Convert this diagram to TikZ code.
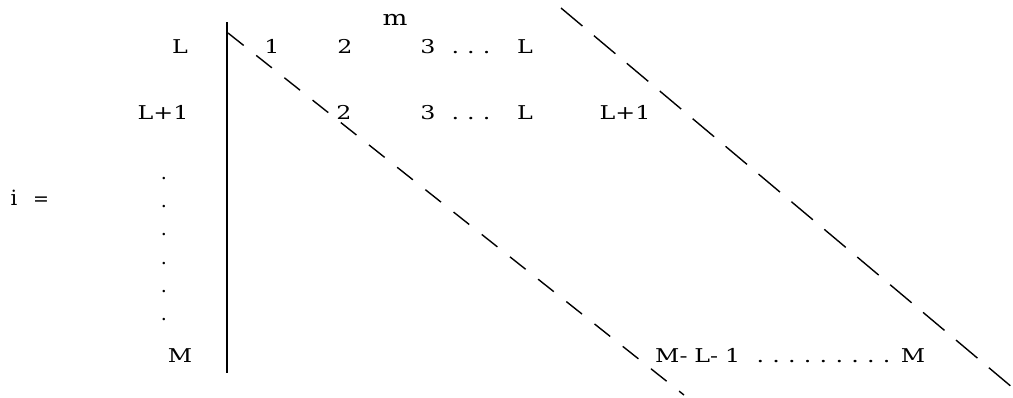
\documentclass[tikz,border=0pt]{standalone}
\usepackage{fontspec}
\setmainfont{DejaVu Serif}
\usepackage{graphicx}
\newcommand{\xs}[1]{\scalebox{1.25}[1]{#1}}
\begin{document}
\begin{tikzpicture}[x=1pt,y=-1pt,
  lab/.style={inner sep=0pt, anchor=base, font=\fontsize{19}{23}\selectfont},
  axisline/.style={line width=2.2pt},
  diagA/.style={line width=1.4pt, dash pattern=on 20pt off 16pt},
  diagB/.style={line width=1.4pt, dash pattern=on 28pt off 15pt}]
\useasboundingbox (0,0) rectangle (1013,397);
% vertical separator
\coordinate (vt) at (227,22);
\coordinate (vb) at (227,373);
\draw[axisline] (vt) -- (vb);
% dashed diagonals
\coordinate (a1) at (228,33);
\coordinate (a2) at (684,395);
\draw[diagA] (a1) -- (a2);
\coordinate (b1) at (561,8);
\coordinate (b2) at (1013,388);
\draw[diagB] (b1) -- (b2);
% header
\node[lab, font=\fontsize{21}{25}\selectfont] (m) at (395,25) {\xs{m}};
% row 1
\node[lab] (r1L) at (180,53) {\xs{L}};
\node[lab] (r1c1) at (272,53) {\xs{1}};
\node[lab] (r1c2) at (345,53) {\xs{2}};
\node[lab] (r1c3) at (428,53) {\xs{3}};
\node[lab] (r1d) at (471,53) {\xs{.\hspace{6.5pt}.\hspace{6.5pt}.}};
\node[lab] (r1cL) at (525,53) {\xs{L}};
% row 2
\node[lab] (r2L) at (163,119) {\xs{L+1}};
\node[lab] (r2c2) at (344,119) {\xs{2}};
\node[lab] (r2c3) at (428,119) {\xs{3}};
\node[lab] (r2d) at (471,119) {\xs{.\hspace{6.5pt}.\hspace{6.5pt}.}};
\node[lab] (r2cL) at (525,119) {\xs{L}};
\node[lab] (r2cL1) at (625,119) {\xs{L+1}};
% i =
\node[lab, font=\fontsize{21}{25}\selectfont] (ii) at (14,205) {i};
\node[lab] (eq) at (41,205) {=};
% vertical dots
\node[lab] (v1) at (164,179) {.};
\node[lab] (v2) at (164,207) {.};
\node[lab] (v3) at (164,235) {.};
\node[lab] (v4) at (164,264) {.};
\node[lab] (v5) at (164,292) {.};
\node[lab] (v6) at (164,320) {.};
% last row
\node[lab] (rML) at (180,362) {\xs{M}};
\node[lab, anchor=base west] (rM1) at (655,362) {\xs{M-\hspace{5.5pt}L-\hspace{5.5pt}1}};
\node[lab] (rMd) at (823.5,362) {\xs{.\hspace{6.6pt}.\hspace{6.6pt}.\hspace{6.6pt}.\hspace{6.6pt}.\hspace{6.6pt}.\hspace{6.6pt}.\hspace{6.6pt}.\hspace{6.6pt}.}};
\node[lab] (rMM) at (913,362) {\xs{M}};
\end{tikzpicture}
\end{document}
